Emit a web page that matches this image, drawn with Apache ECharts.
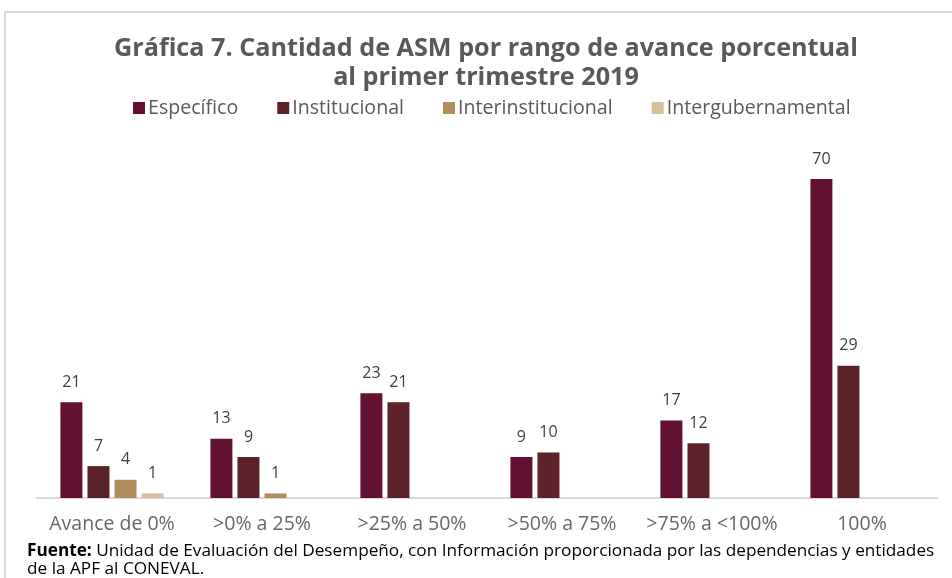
<!DOCTYPE html>
<html>
<head>
    <meta charset="utf-8">
    <title>Gráfica 7</title>
    <script src="https://cdn.jsdelivr.net/npm/echarts@6/dist/echarts.min.js"></script>
</head>
<body style="margin:0;">
    <div id="main" style="width: 952px;height:578px;"></div>
    <script type="text/javascript">
        // datos
        var categorias = ['Avance de 0%', '>0% a 25%', '>25% a 50%', '>50% a 75%', '>75% a <100%', '100%'];
        var especifico = [21, 13, 23, 9, 17, 70];
        var institucional = [7, 9, 21, 10, 12, 29];
        var interinstitucional = [4, 1, null, null, null, null];
        var intergubernamental = [1, null, null, null, null, null];

        var myChart = echarts.init(document.getElementById('main'));

        var etiqueta = {
            show: true,
            position: 'top',
            distance: 12,
            color: '#404040',
            fontSize: 16,
            fontFamily: 'Open Sans'
        };

        function serie(nombre, datos, color) {
            return {
                name: nombre,
                type: 'bar',
                data: datos,
                barWidth: 22,
                barGap: '23%',
                itemStyle: { color: color },
                label: etiqueta
            };
        }

        var option = {
            legend: {
                top: 93,
                left: 128,
                itemWidth: 12,
                itemHeight: 12,
                itemGap: 39,
                icon: 'rect',
                textStyle: { fontFamily: 'Open Sans', fontSize: 19.6, color: '#595959', padding: [0, 0, 0, -2] },
                data: ['Específico', 'Institucional', 'Interinstitucional', 'Intergubernamental']
            },
            grid: { left: 37, right: 15, top: 179, bottom: 80 },
            xAxis: {
                type: 'category',
                data: categorias,
                axisTick: { show: false },
                axisLine: { lineStyle: { color: '#d9d9d9', width: 2 } },
                axisLabel: { fontFamily: 'Open Sans', fontSize: 19.5, color: '#666666', margin: 16, interval: 0 }
            },
            yAxis: { type: 'value', min: 0, max: 70, show: false },
            series: [
                serie('Específico', especifico, '#621132'),
                serie('Institucional', institucional, '#5b2329'),
                serie('Interinstitucional', interinstitucional, '#b38e5d'),
                serie('Intergubernamental', intergubernamental, '#d4c19c')
            ],
            graphic: [
                {
                    type: 'polyline',
                    shape: { points: [[5, 578], [5, 12], [952, 12]] },
                    style: { stroke: '#d9d9d9', lineWidth: 2, fill: null }
                },
                {
                    type: 'text',
                    x: 486,
                    y: 34,
                    style: {
                        text: 'Gráfica 7. Cantidad de ASM por rango de avance porcentual\nal primer trimestre 2019',
                        align: 'center',
                        verticalAlign: 'top',
                        fontFamily: 'Open Sans',
                        fontWeight: 'bold',
                        fontSize: 25.2,
                        lineHeight: 29,
                        fill: '#595959'
                    }
                },
                {
                    type: 'text',
                    left: 27,
                    top: 542,
                    style: {
                        text: '{b|Fuente:} Unidad de Evaluación del Desempeño, con Información proporcionada por las dependencias y entidades\nde la APF al CONEVAL.',
                        rich: {
                            b: { fontWeight: 'bold', fontFamily: 'Open Sans', fontSize: 17.2, fill: '#000' }
                        },
                        fontFamily: 'Open Sans',
                        fontSize: 17.2,
                        lineHeight: 18,
                        fill: '#000'
                    }
                }
            ]
        };

        myChart.setOption(option);
    </script>
</body>
</html>
